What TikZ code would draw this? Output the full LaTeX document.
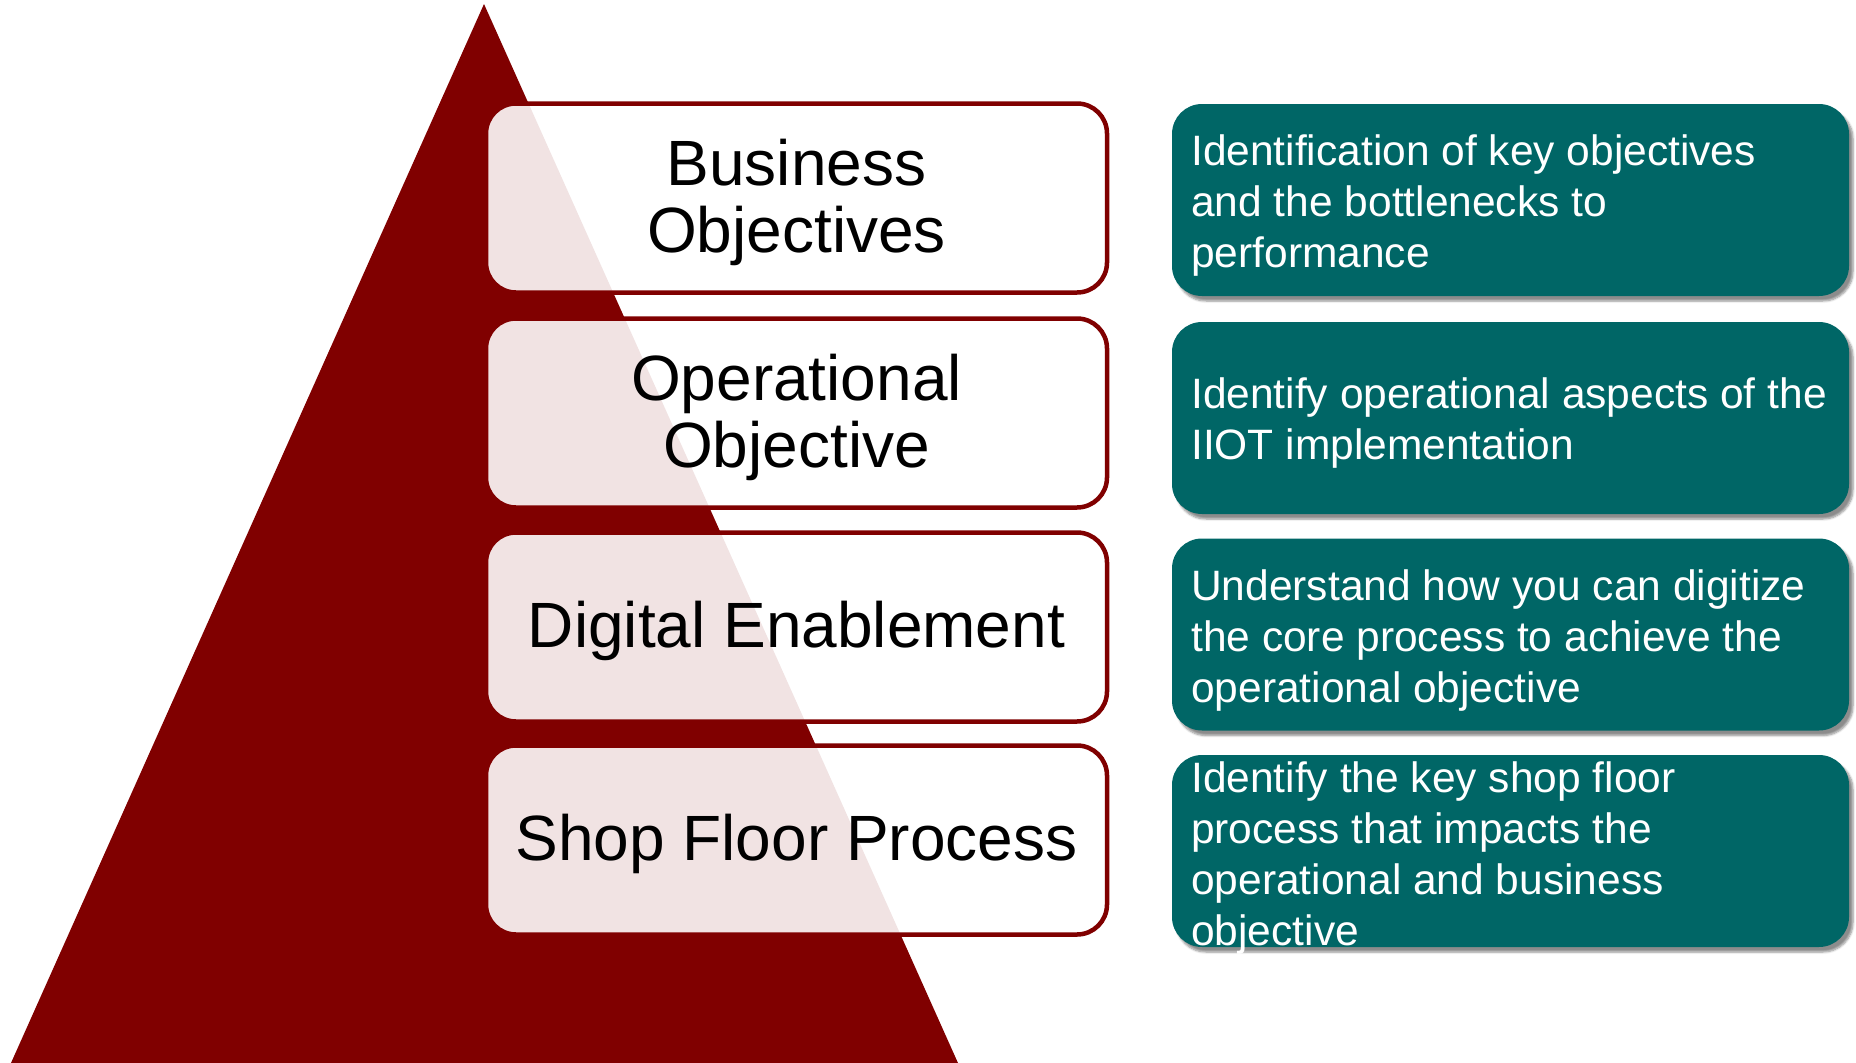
\documentclass[tikz,border=0pt]{standalone}
\usepackage{fontspec}
\setmainfont{Liberation Sans}
\usetikzlibrary{shadows.blur}
\definecolor{dred}{RGB}{128,0,0}
\definecolor{tealbg}{RGB}{0,102,102}
\begin{document}
\begin{tikzpicture}[x=1pt,y=-1pt,
 lbox/.style={rectangle, rounded corners=30pt, draw=dred, line width=4.5pt, fill=white, fill opacity=0.89, minimum width=621pt, minimum height=189pt, inner sep=0pt},
 ltext/.style={inner sep=0pt, align=center, text=black, font=\fontsize{64}{67}\selectfont},
 rbox/.style={rectangle, rounded corners=30pt, fill=tealbg, minimum width=677pt, minimum height=192pt, inner sep=0pt, blur shadow={shadow xshift=4pt, shadow yshift=-5pt, shadow blur steps=6, shadow opacity=45}},
 rtext/.style={anchor=west, inner sep=0pt, align=left, text=white, font=\fontsize{42.5}{51}\selectfont}]
\useasboundingbox (0,0) rectangle (1856,1063);
\fill[dred] (484,4) -- (958,1063) -- (11,1063) -- cycle;
\node[lbox] (l1) at (796.5,198) {};
\node[lbox] (l2) at (796.5,413) {};
\node[lbox] (l3) at (796.5,627) {};
\node[lbox] (l4) at (796.5,840) {};
\node[ltext] (lt1) at ([yshift=-4pt]l1.center) {Business\\Objectives};
\node[ltext] (lt2) at ([yshift=-4pt]l2.center) {Operational\\Objective};
\node[ltext] (lt3) at ([yshift=-4pt]l3.center) {Digital Enablement};
\node[ltext] (lt4) at ([yshift=-4pt]l4.center) {Shop Floor Process};
\node[rbox] (r1) at (1510.5,200) {};
\node[rbox] (r2) at (1510.5,418) {};
\node[rbox] (r3) at (1510.5,634.5) {};
\node[rbox] (r4) at (1510.5,851) {};
\node[rtext] (t1) at (1191,206) {Identification of key objectives\\and the bottlenecks to\\performance};
\node[rtext] (t2) at (1191,423) {Identify operational aspects of the\\IIOT implementation};
\node[rtext] (t3) at (1191,641) {Understand how you can digitize\\the core process to achieve the\\operational objective};
\node[rtext] (t4) at (1191,858) {Identify the key shop floor\\process that impacts the\\operational and business\\objective};
\end{tikzpicture}
\end{document}
